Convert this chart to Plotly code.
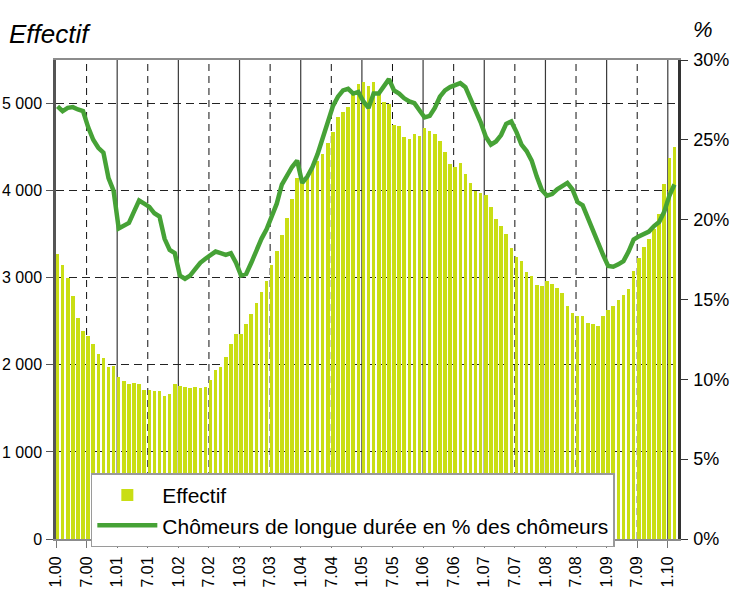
import plotly.graph_objects as go

# ---- data (monthly, Jan 2000 -> Feb 2010) ----
effectif = [
    3270, 3150, 3000, 2785, 2540, 2385, 2335, 2235, 2120, 2075, 1975, 1985,
    1855, 1810, 1785, 1790, 1775, 1710, 1710, 1705, 1695, 1640, 1660, 1780,
    1760, 1740, 1730, 1745, 1730, 1750, 1830, 1935, 1980, 2090, 2235, 2350,
    2350, 2465, 2580, 2705, 2840, 2965, 3150, 3310, 3495, 3690, 3900, 4145,
    4110, 4190, 4265, 4340, 4420, 4550, 4675, 4845, 4905, 4960, 5115, 5225,
    5245, 5205, 5250, 5110, 5015, 4990, 4755, 4740, 4615, 4595, 4655, 4625,
    4725, 4685, 4645, 4570, 4440, 4305, 4275, 4320, 4190, 4090, 4000, 3975,
    3950, 3815, 3680, 3595, 3500, 3340, 3240, 3195, 3070, 3015, 2920, 2900,
    2960, 2930, 2885, 2820, 2680, 2600, 2555, 2555, 2485, 2465, 2450, 2565,
    2635, 2680, 2750, 2805, 2875, 3080, 3225, 3355, 3450, 3560, 3730, 4080,
    4380, 4500,
]
pct_longue_duree = [
    27.1, 26.8, 27.0, 27.05, 26.9, 26.8, 25.8, 25.0, 24.5, 24.2, 22.6, 21.8,
    19.45, 19.6, 19.8, 20.5, 21.2, 21.0, 20.8, 20.4, 20.2, 18.8, 18.1, 17.9,
    16.5, 16.3, 16.5, 16.9, 17.3, 17.55, 17.8, 18.0, 17.9, 17.8, 17.9, 17.3,
    16.5, 16.6, 17.3, 18.1, 18.8, 19.4, 20.2, 21.0, 22.2, 22.8, 23.3, 23.7,
    22.3, 22.7, 23.3, 24.1, 25.1, 26.3, 27.1, 27.7, 28.1, 28.2, 27.9, 28.0,
    27.4, 27.0, 27.9, 27.9, 28.4, 28.8, 28.1, 27.9, 27.6, 27.4, 27.3, 26.8,
    26.4, 26.5, 27.0, 27.7, 28.1, 28.3, 28.4, 28.55, 28.3, 27.6, 26.8, 26.1,
    25.2, 24.7, 24.9, 25.3, 26.0, 26.15, 25.5, 24.7, 24.3, 23.7, 22.7, 21.85,
    21.5, 21.6, 21.9, 22.1, 22.3, 21.9, 21.1, 20.9, 20.1, 19.3, 18.6, 17.8,
    17.1, 17.05, 17.2, 17.4, 18.0, 18.75, 18.95, 19.1, 19.25, 19.6, 19.85, 20.5,
    21.5, 22.2,
]
tick_labels = ["1.00", "7.00", "1.01", "7.01", "1.02", "7.02", "1.03", "7.03",
               "1.04", "7.04", "1.05", "7.05", "1.06", "7.06", "1.07", "7.07",
               "1.08", "7.08", "1.09", "7.09", "1.10"]
left_ticks = [0, 1000, 2000, 3000, 4000, 5000]
left_tick_text = ["0", "1 000", "2 000", "3 000", "4 000", "5 000"]
right_ticks = [0, 5, 10, 15, 20, 25, 30]

name_bar = "Effectif"
name_line = "Chômeurs de longue durée en % des chômeurs"

# ---- styling ----
BAR_COLOR = "#C9DE14"
LINE_COLOR = "#46A236"
FAMILY = "Liberation Sans, Arial, sans-serif"
TICK_FONT = dict(family=FAMILY, size=18, color="#000")

n = len(effectif)
x_pos = [i + 0.3 for i in range(n)]
tick_vals = [6 * i for i in range(len(tick_labels))]

fig = go.Figure()
fig.add_trace(go.Bar(
    x=x_pos, y=effectif, name=name_bar, width=0.7,
    marker=dict(color=BAR_COLOR, line=dict(width=0)),
    yaxis="y",
))
fig.add_trace(go.Scatter(
    x=x_pos, y=pct_longue_duree, name=name_line, mode="lines",
    line=dict(color=LINE_COLOR, width=4.5),
    yaxis="y2",
))

shapes = []
for lab, v in zip(tick_labels, tick_vals):
    if v == 0:
        continue
    jan = lab.startswith("1.")
    shapes.append(dict(
        type="line", xref="x", yref="paper", x0=v, x1=v, y0=0, y1=1,
        layer="below",
        line=dict(color="#3a3a3a" if jan else "#111",
                  width=1.2 if jan else 1,
                  dash="solid" if jan else "7px,5px"),
    ))

fig.update_layout(
    width=733, height=592,
    margin=dict(l=56, r=55, t=60, b=53),
    paper_bgcolor="white", plot_bgcolor="white",
    bargap=0,
    showlegend=True,
    legend=dict(
        x=0.056, y=0.137, xanchor="left", yanchor="top",
        bgcolor="white", bordercolor="#9a9a9a", borderwidth=1.5,
        font=dict(family=FAMILY, size=21, color="#000"),
        itemwidth=60, tracegroupgap=0,
    ),
    xaxis=dict(
        range=[0, 122], tickmode="array", tickvals=tick_vals, ticktext=tick_labels,
        tickangle=-90, tickfont=dict(TICK_FONT, size=16),
        ticks="outside", ticklen=7, tickcolor="#777",
        ticklabelstandoff=2,
        showgrid=False, zeroline=False,
        showline=True, linecolor="#8c8c8c", linewidth=2, mirror=True,
        automargin=False,
    ),
    yaxis=dict(
        range=[0, 5500], tickmode="array", tickvals=left_ticks, ticktext=left_tick_text,
        tickfont=dict(TICK_FONT, size=16), ticks="outside", ticklen=7, tickcolor="#555",
        ticklabelstandoff=1,
        showgrid=True, gridcolor="#222", gridwidth=1, griddash="8px,5px",
        zeroline=False, showline=True, linecolor="#555", linewidth=2.5,
        automargin=False,
    ),
    yaxis2=dict(
        range=[0, 30], tickmode="array", tickvals=right_ticks,
        ticktext=[f"{t}%" for t in right_ticks],
        tickfont=TICK_FONT, ticks="outside", ticklen=7, tickcolor="#333",
        ticklabelstandoff=2,
        overlaying="y", side="right", showgrid=False, zeroline=False,
        showline=True, linecolor="#333", linewidth=2.5, automargin=False,
    ),
    shapes=shapes,
    annotations=[
        dict(text="<i>Effectif</i>", xref="paper", yref="paper",
             x=-0.078, y=1.055, xanchor="left", yanchor="middle", showarrow=False,
             font=dict(family=FAMILY, size=26, color="#000")),
        dict(text="<i>%</i>", xref="paper", yref="paper",
             x=1.040, y=1.063, xanchor="center", yanchor="middle", showarrow=False,
             font=dict(family=FAMILY, size=22, color="#000")),
    ],
)

fig.write_html(
    "out.html",
    config={"displayModeBar": False},
    post_script="document.body.style.margin='0';document.body.style.overflow='hidden';",
)
